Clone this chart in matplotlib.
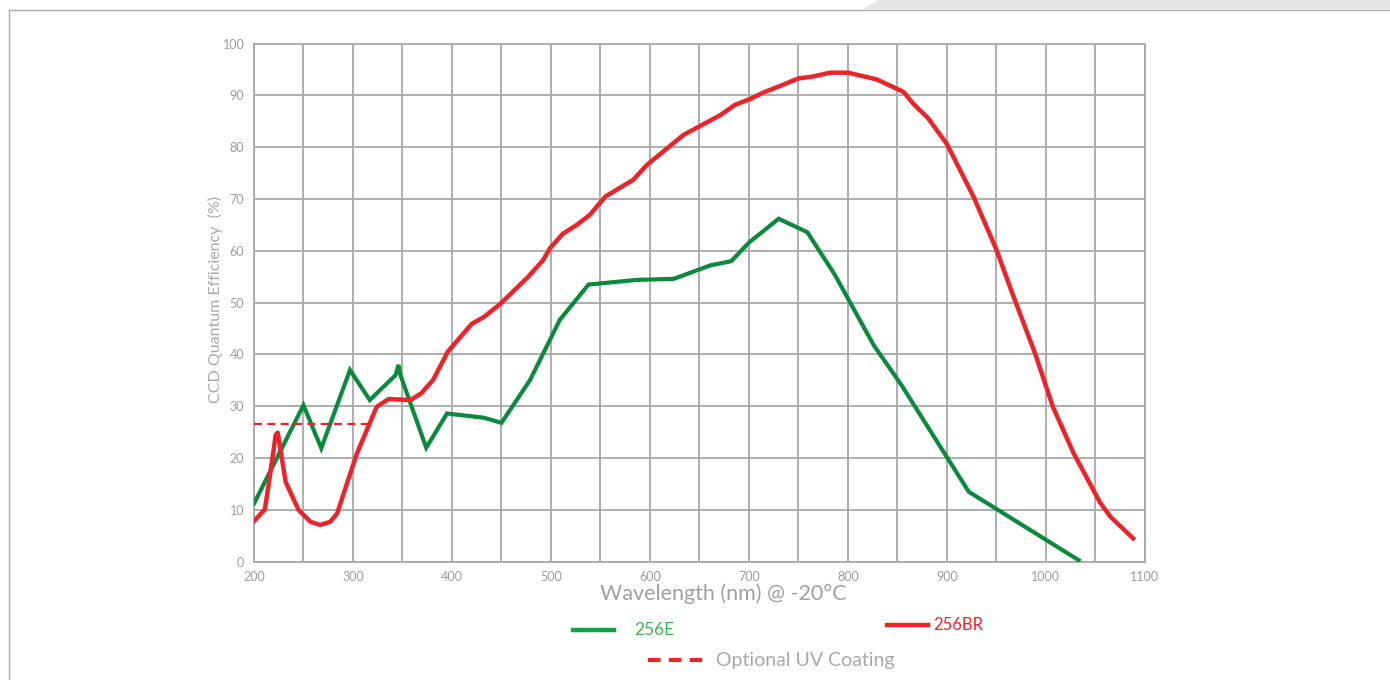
import matplotlib.pyplot as plt
from matplotlib.lines import Line2D
from matplotlib.patches import Polygon

# 256E (green) quantum efficiency
wl_256e = [200, 250, 268, 297, 317, 343, 346, 348, 374, 395, 432, 450, 479, 509,
           538, 587, 624, 661, 682, 700, 730, 759, 787, 826, 854, 922, 1033]
qe_256e = [11.2, 30.2, 21.9, 37.0, 31.2, 36.0, 38.0, 36.0, 22.0, 28.6, 27.8, 26.8, 35.1, 46.7,
           53.5, 54.4, 54.6, 57.2, 58.0, 61.6, 66.2, 63.6, 55.3, 41.8, 34.1, 13.5, 0.3]

# 256BR (red)
wl_256br = [200, 211, 215, 222, 224, 232, 245, 257, 267, 277, 284, 294, 304, 314, 324,
            336, 358, 369, 381, 396, 420, 432, 449, 477, 492, 499, 512, 526, 539, 555,
            583, 597, 634, 671, 686, 701, 715, 731, 750, 763, 782, 800, 829, 856, 866,
            881, 900, 927, 950, 966, 989, 1007, 1028, 1055, 1065, 1088]
qe_256br = [7.8, 10.1, 15.1, 24.5, 24.9, 15.4, 10.0, 7.7, 7.1, 7.7, 9.3, 15.1, 20.9, 25.4, 29.9,
            31.4, 31.2, 32.5, 35.1, 40.6, 45.9, 47.2, 49.8, 55.0, 58.2, 60.5, 63.3, 65.0, 66.9, 70.5,
            73.7, 76.6, 82.4, 86.2, 88.2, 89.3, 90.6, 91.8, 93.3, 93.6, 94.4, 94.4, 93.1, 90.7, 88.4,
            85.6, 80.6, 70.4, 60.2, 51.8, 40.2, 29.9, 20.9, 11.3, 8.7, 4.5]

# optional UV coating level
uv_wl = [200, 320]
uv_qe = [26.5, 26.5]

x_ticks = list(range(200, 1101, 100))
y_ticks = list(range(0, 101, 10))

GREEN = '#0b8a3e'
RED = '#ee2229'
GRID = '#a8a8ab'
TXT = '#9c9c9c'

plt.rcParams['font.family'] = ['Lato', 'DejaVu Sans']

fig = plt.figure(figsize=(13.9, 6.8), dpi=100)
ax = fig.add_axes([0.1827, 0.174, 0.641, 0.7618])

ax.plot(wl_256e, qe_256e, color=GREEN, lw=3, solid_joinstyle='miter', zorder=3)
ax.plot(wl_256br, qe_256br, color=RED, lw=3.2, solid_joinstyle='round', zorder=4)
ax.plot(uv_wl, uv_qe, color=RED, lw=1.6, dashes=(3.6, 2.4), zorder=4)

ax.set_xlim(200, 1100)
ax.set_ylim(0, 100)
ax.set_xticks(range(200, 1101, 50))
ax.set_xticklabels([str(v) if v in x_ticks else '' for v in range(200, 1101, 50)])
ax.set_yticks(y_ticks)
ax.grid(True, color=GRID, lw=1.3)
ax.set_axisbelow(True)
ax.tick_params(length=0, labelsize=9, labelcolor=TXT, pad=7)
for s in ax.spines.values():
    s.set_color(GRID)
    s.set_linewidth(1.3)

fig.text(0.5205, 0.1265, 'Wavelength (nm) @ -20°C', ha='center', va='center',
         fontsize=15.5, color='#a0a0a0')
fig.text(0.1547, 0.559, 'CCD Quantum Efficiency  (%)', ha='center', va='center',
         rotation=90, fontsize=11.5, color='#a8a8a8')

# legend drawn by hand, spread out like the original
fig.add_artist(Line2D([0.4122, 0.4417], [0.0735, 0.0735], color='#11a044', lw=3.2))
fig.text(0.4561, 0.0735, '256E', ha='left', va='center', fontsize=12.5, color='#3cb44b')
fig.add_artist(Line2D([0.6381, 0.6676], [0.081, 0.081], color=RED, lw=3.2))
fig.text(0.6712, 0.081, '256BR', ha='left', va='center', fontsize=12, color=RED)
fig.add_artist(Line2D([0.4662, 0.5086], [0.0294, 0.0294], color=RED, lw=3, dashes=(3, 2)))
fig.text(0.5151, 0.0294, 'Optional UV Coating', ha='left', va='center', fontsize=14,
         color='#a8a8a8')

# page frame and tab
fig.add_artist(Line2D([9 / 1390, 1], [1 - 9.5 / 680, 1 - 9.5 / 680], color='#aaaaaa', lw=1))
fig.add_artist(Line2D([9 / 1390, 9 / 1390], [0, 1 - 9.5 / 680], color='#aaaaaa', lw=1))
fig.add_artist(Polygon([[863 / 1390, 1 - 9 / 680], [878 / 1390, 1], [1, 1], [1, 1 - 9 / 680]],
                       closed=True, facecolor='#e6e6e6', edgecolor='none',
                       transform=fig.transFigure))

fig.savefig('out.png', dpi=100)
